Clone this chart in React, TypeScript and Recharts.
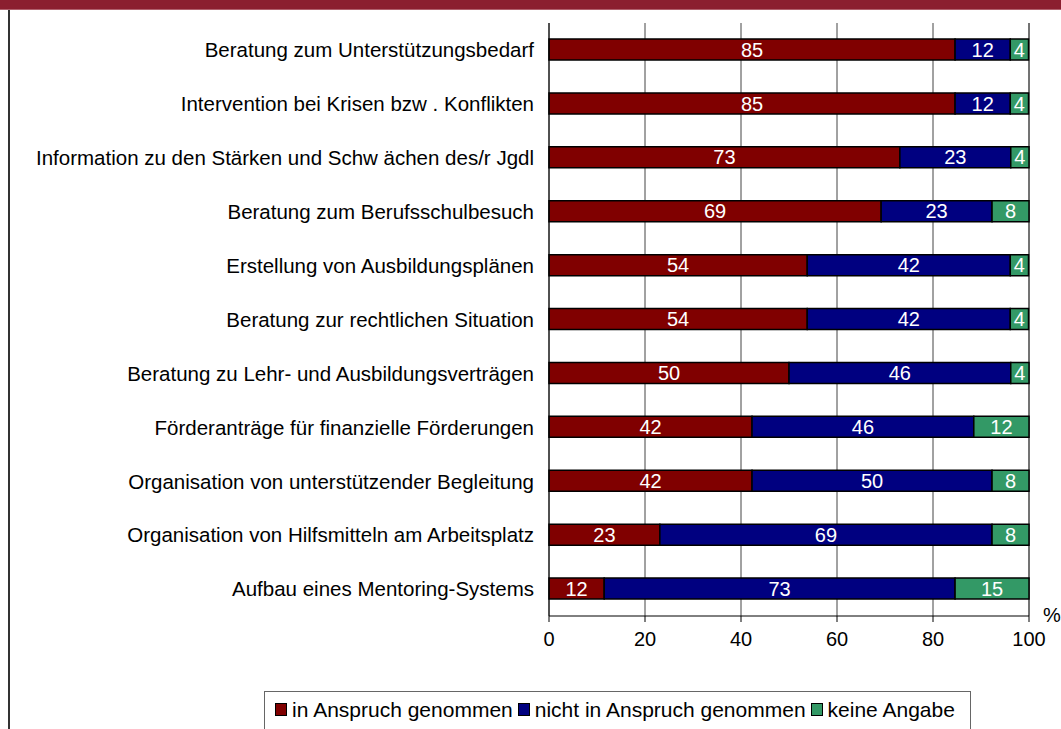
import { BarChart, Bar, XAxis, YAxis, CartesianGrid, LabelList, Legend } from 'recharts';

// Angaben in % (n = 26)
const categories = [
  'Beratung zum Unterstützungsbedarf',
  'Intervention bei Krisen bzw . Konflikten',
  'Information zu den Stärken und Schw ächen des/r Jgdl',
  'Beratung zum Berufsschulbesuch',
  'Erstellung von Ausbildungsplänen',
  'Beratung zur rechtlichen Situation',
  'Beratung zu Lehr- und Ausbildungsverträgen',
  'Förderanträge für finanzielle Förderungen',
  'Organisation von unterstützender Begleitung',
  'Organisation von Hilfsmitteln am Arbeitsplatz',
  'Aufbau eines Mentoring-Systems',
];
const genutzt = [84.6, 84.6, 73.1, 69.2, 53.8, 53.8, 50.0, 42.3, 42.3, 23.1, 11.5];
const nichtGenutzt = [11.5, 11.5, 23.1, 23.1, 42.3, 42.3, 46.2, 46.2, 50.0, 69.2, 73.1];
const keineAngabe = [3.8, 3.8, 3.8, 7.7, 3.8, 3.8, 3.8, 11.5, 7.7, 7.7, 15.4];
const xTicks = [0, 20, 40, 60, 80, 100];
const boundaryTicks = [0, 1, 2, 3, 4, 5, 6, 7, 8, 9, 10, 11];

const series = [
  { key: 'genutzt', name: 'in Anspruch genommen', color: '#800000' },
  { key: 'nichtGenutzt', name: 'nicht in Anspruch genommen', color: '#000080' },
  { key: 'keineAngabe', name: 'keine Angabe', color: '#339966' },
];

const data = categories.map((name, i) => ({
  name,
  genutzt: genutzt[i],
  nichtGenutzt: nichtGenutzt[i],
  keineAngabe: keineAngabe[i],
}));

const FONT = '"Liberation Sans", Arial, sans-serif';

const LegendBox = () => (
  <div
    style={{
      border: '1px solid #666',
      borderBottom: 'none',
      height: 40,
      display: 'flex',
      alignItems: 'center',
      justifyContent: 'center',
      fontFamily: FONT,
      fontSize: 21,
      color: '#000',
      boxSizing: 'border-box',
      paddingBottom: 4,
      whiteSpace: 'nowrap',
    }}
  >
    {series.map((s) => (
      <span key={s.key} style={{ display: 'flex', alignItems: 'center', marginRight: 5 }}>
        <span
          style={{
            display: 'inline-block',
            width: 10,
            height: 11,
            background: s.color,
            border: '1.5px solid #000',
            marginRight: 5,
          }}
        />
        {s.name}
      </span>
    ))}
  </div>
);

export default function App() {
  return (
    <div style={{ position: 'absolute', left: 0, top: 0, width: 1061, height: 729, background: '#fff', overflow: 'hidden' }}>
      {/* Kopfbalken und linker Rand */}
      <div style={{ position: 'absolute', left: 0, top: 0, width: 1061, height: 9, background: '#8B1F2F' }} />
      <div style={{ position: 'absolute', left: 0, top: 9, width: 1061, height: 1, background: '#B0606C' }} />
      <div style={{ position: 'absolute', left: 8, top: 10, width: 1.5, height: 719, background: '#333' }} />

      <BarChart
        layout="vertical"
        width={1061}
        height={729}
        data={data}
        margin={{ top: 23, right: 32, left: 9, bottom: 43 }}
        barSize={21}
        style={{ position: 'absolute', left: 0, top: 0 }}
      >
        <CartesianGrid horizontal={false} vertical stroke="#444" strokeWidth={1} />
        <XAxis
          type="number"
          domain={[0, 100]}
          ticks={xTicks}
          tickSize={6}
          tickMargin={10}
          stroke="#000"
          tick={{ fill: '#000', fontSize: 20, fontFamily: FONT }}
        />
        <YAxis
          type="category"
          dataKey="name"
          width={540}
          tickSize={0}
          tickMargin={15}
          stroke="#000"
          tick={{ fill: '#000', fontSize: 20.5, fontFamily: FONT }}
          interval={0}
        />
        <YAxis
          yAxisId="b"
          type="number"
          domain={[0, 11]}
          ticks={boundaryTicks}
          allowDataOverflow
          width={0}
          tick={false}
          tickSize={5}
          axisLine={false}
          stroke="#000"
        />
        <Legend
          content={() => <LegendBox />}
          wrapperStyle={{ position: 'absolute', left: 264, top: 691, width: 707, height: 40 }}
        />
        {series.map((s) => (
          <Bar
            key={s.key}
            dataKey={s.key}
            name={s.name}
            stackId="a"
            fill={s.color}
            stroke="#000"
            strokeWidth={1.5}
            isAnimationActive={false}
          >
            <LabelList
              dataKey={s.key}
              position="center"
              formatter={(v: unknown) => Math.round(Number(v))}
              fill="#fff"
              style={{ fontSize: 20, fontFamily: FONT }}
            />
          </Bar>
        ))}
      </BarChart>

      <div style={{ position: 'absolute', left: 1043, top: 604, fontFamily: FONT, fontSize: 20, color: '#000' }}>%</div>
    </div>
  );
}
